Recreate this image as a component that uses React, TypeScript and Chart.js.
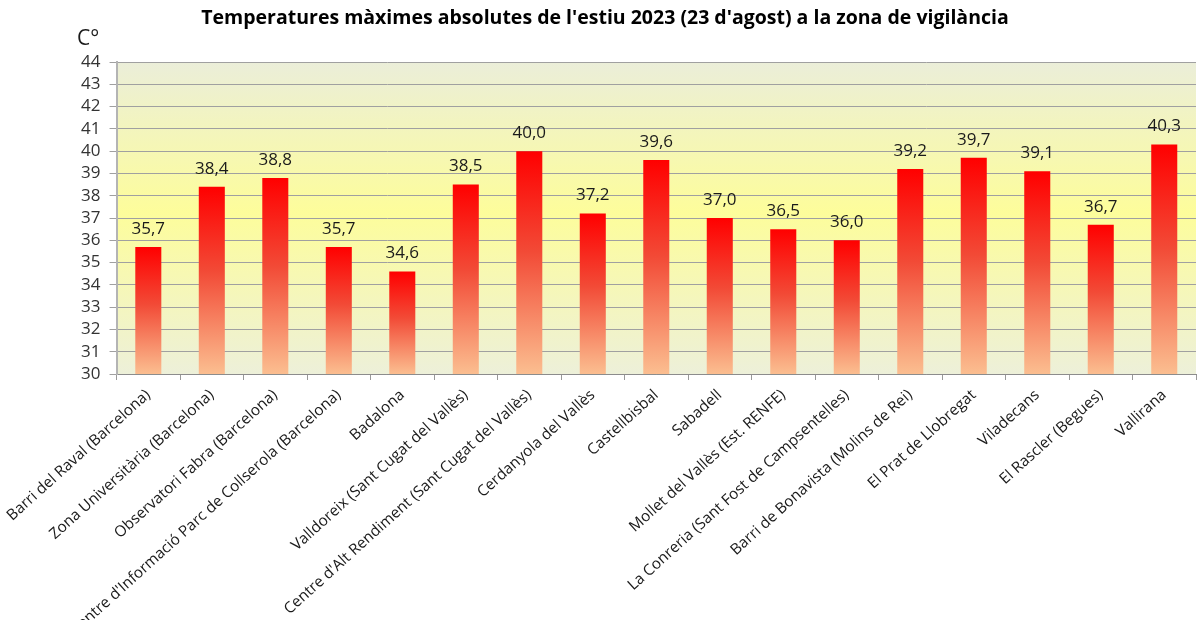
import React, { useEffect, useRef } from "react";
import { Chart, registerables } from "chart.js";

Chart.register(...registerables);

const TITLE = "Temperatures màximes absolutes de l'estiu 2023 (23 d'agost) a la zona de vigilància";
const UNIT_LABEL = "C°";

const STATIONS: string[] = [
  "Barri del Raval (Barcelona)",
  "Zona Universitària (Barcelona)",
  "Observatori Fabra (Barcelona)",
  "Centre d'Informació Parc de Collserola (Barcelona)",
  "Badalona",
  "Valldoreix (Sant Cugat del Vallès)",
  "Centre d'Alt Rendiment (Sant Cugat del Vallès)",
  "Cerdanyola del Vallès",
  "Castellbisbal",
  "Sabadell",
  "Mollet del Vallès (Est. RENFE)",
  "La Conreria (Sant Fost de Campsentelles)",
  "Barri de Bonavista (Molins de Rei)",
  "El Prat de Llobregat",
  "Viladecans",
  "El Rascler (Begues)",
  "Vallirana",
];

const MAX_TEMPS: number[] = [
  35.7, 38.4, 38.8, 35.7, 34.6, 38.5, 40.0, 37.2, 39.6, 37.0, 36.5, 36.0, 39.2, 39.7, 39.1, 36.7, 40.3,
];

const Y_MIN = 30;
const Y_MAX = 44;

const fmt = (v: number) => v.toFixed(1).replace(".", ",");

const decorPlugin = {
  id: "decor",
  beforeDraw(chart: any) {
    const { ctx, chartArea } = chart;
    if (!chartArea) return;
    const g = ctx.createLinearGradient(0, chartArea.top, 0, chartArea.bottom);
    g.addColorStop(0, "#EBEED9");
    g.addColorStop(0.48, "#FDFD9B");
    g.addColorStop(1, "#EDF0D9");
    ctx.save();
    ctx.fillStyle = g;
    ctx.fillRect(chartArea.left, chartArea.top, chartArea.right - chartArea.left, chartArea.bottom - chartArea.top);
    ctx.restore();
  },
  afterDraw(chart: any) {
    const { ctx } = chart;
    ctx.save();
    // title
    ctx.fillStyle = "#000000";
    ctx.font = "bold 19.5px 'Open Sans'";
    ctx.textAlign = "center";
    ctx.textBaseline = "middle";
    ctx.fillText(TITLE, 605, 18);
    // unit
    ctx.font = "21px 'Open Sans'";
    ctx.fillStyle = "#1a1a1a";
    ctx.textAlign = "left";
    ctx.fillText(UNIT_LABEL, 77, 39);
    // data labels
    const meta = chart.getDatasetMeta(0);
    ctx.font = "17px 'Open Sans'";
    ctx.fillStyle = "#1a1a1a";
    ctx.textAlign = "center";
    ctx.textBaseline = "middle";
    meta.data.forEach((el: any, i: number) => {
      ctx.fillText(fmt(MAX_TEMPS[i]), el.x, el.y - 18);
    });
    ctx.restore();
  },
};

export default function App() {
  const ref = useRef<HTMLCanvasElement | null>(null);

  useEffect(() => {
    document.body.style.margin = "0";
    if (!ref.current) return;
    const chart = new Chart(ref.current, {
      type: "bar",
      data: {
        labels: STATIONS,
        datasets: [
          {
            data: MAX_TEMPS,
            backgroundColor: (c: any) => {
              const ch = c.chart;
              const ys = ch.scales?.y;
              if (!ys || c.parsed == null) return "#F55A3C";
              const top = ys.getPixelForValue(c.parsed.y);
              const bottom = ys.getPixelForValue(Y_MIN);
              if (!isFinite(top) || !isFinite(bottom) || top === bottom) return "#F55A3C";
              const g = ch.ctx.createLinearGradient(0, top, 0, bottom);
              g.addColorStop(0, "#FF0000");
              g.addColorStop(0.45, "#F24A36");
              g.addColorStop(1, "#FBBE90");
              return g;
            },
            borderWidth: 0,
            barPercentage: 0.41,
            categoryPercentage: 1,
          },
        ],
      },
      options: {
        animation: false,
        responsive: false,
        maintainAspectRatio: false,
        layout: { padding: { top: 62, left: 0, right: 2, bottom: 0 } },
        plugins: {
          legend: { display: false },
          title: { display: false },
          tooltip: { enabled: false },
        },
        scales: {
          x: {
            grid: {
              display: true,
              drawOnChartArea: false,
              offset: true,
              tickLength: 6,
              color: "#999999",
            },
            border: { color: "#8C8C8C", width: 1 },
            ticks: {
              autoSkip: false,
              minRotation: 42,
              maxRotation: 42,
              color: "#1a1a1a",
              padding: 6,
              font: { family: "'Open Sans'", size: 15.3 },
            },
            afterFit: (s: any) => {
              s.height = 246;
            },
          },
          y: {
            min: Y_MIN,
            max: Y_MAX,
            grid: {
              color: "#A0A0A0",
              lineWidth: 1,
              tickLength: 7,
            },
            border: { color: "#B4B4B4", width: 2 },
            ticks: {
              stepSize: 1,
              autoSkip: false,
              color: "#333333",
              padding: 9,
              font: { family: "'Open Sans'", size: 17 },
            },
            afterFit: (s: any) => {
              s.width = 115;
            },
          },
        },
      },
      plugins: [decorPlugin],
    });
    return () => chart.destroy();
  }, []);

  return <canvas ref={ref} width={1198} height={620} style={{ display: "block" }} />;
}
